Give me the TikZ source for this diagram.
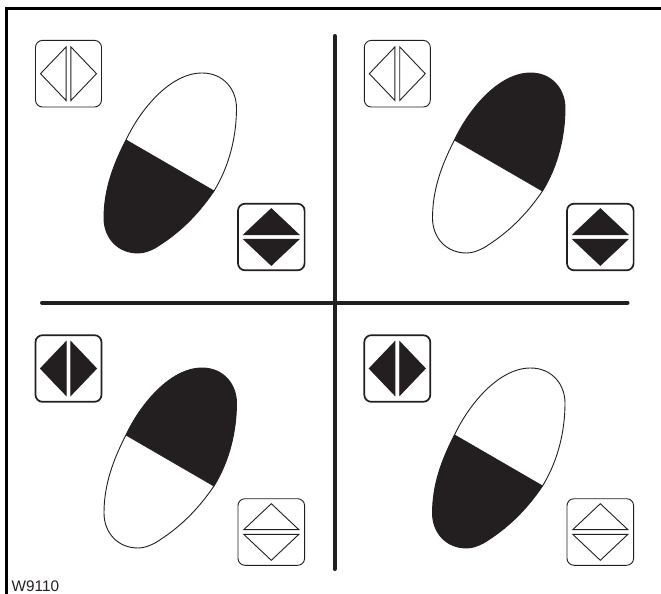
\documentclass[tikz,border=0pt]{standalone}
\usepackage{fontspec}
\setmainfont{Liberation Sans}
\definecolor{ink}{HTML}{231F20}
\tikzset{
  iconbox/.style={draw=ink,rounded corners=7,fill=white},
  thinicon/.style={line width=0.9pt},
  boldicon/.style={line width=1.7pt},
  tri/.style={draw=ink,line width=0.9pt,line join=miter},
  divider/.style={draw=ink,line width=4pt,line cap=round},
  frameline/.style={draw=black,line width=2.7pt},
  blobline/.style={draw=ink,line width=0.9pt},
}
% blob: #1 x shift, #2 y shift, #3 upper fill, #4 lower fill
\newcommand{\blobshape}[4]{%
  \begin{scope}[shift={(#1,#2)}]
    \path[fill=#3] (126,140) .. controls (140,110) and (170,73) .. (202,73)
      .. controls (224,73) and (236.5,90) .. (236.5,108)
      .. controls (236.5,135) and (230,165) .. (214,191) -- cycle;
    \path[fill=#4] (214,191) .. controls (197,216) and (178,234) .. (155,248)
      .. controls (149,251) and (144,253) .. (138,253)
      .. controls (118,253) and (104,238) .. (104,218)
      .. controls (104,190) and (113,165) .. (126,140) -- cycle;
    \draw[blobline,line join=round] (126,140) .. controls (140,110) and (170,73) .. (202,73)
      .. controls (224,73) and (236.5,90) .. (236.5,108)
      .. controls (236.5,135) and (230,165) .. (214,191)
      .. controls (197,216) and (178,234) .. (155,248)
      .. controls (149,251) and (144,253) .. (138,253)
      .. controls (118,253) and (104,238) .. (104,218)
      .. controls (104,190) and (113,165) .. (126,140) -- (214,191);
  \end{scope}}
% horizontal-pair icon: #1 cx, #2 cy, #3 box style, #4 fill
\newcommand{\iconlr}[4]{%
  \begin{scope}[shift={(#1,#2)}]
    \path[iconbox,#3] (-33,-33.3) rectangle (33,33.3);
    \path[tri,fill=#4] (-2.4,-26.8) -- (-28,0) -- (-2.4,26.8) -- cycle;
    \path[tri,fill=#4] (2.4,-26.8) -- (28,0) -- (2.4,26.8) -- cycle;
  \end{scope}}
\newcommand{\iconud}[4]{%
  \begin{scope}[shift={(#1,#2)}]
    \path[iconbox,#3] (-33.3,-33.3) rectangle (33.3,33.3);
    \path[tri,fill=#4] (-27.5,-2.4) -- (0,-28.3) -- (27.5,-2.4) -- cycle;
    \path[tri,fill=#4] (-27.5,2.4) -- (0,28.3) -- (27.5,2.4) -- cycle;
  \end{scope}}
\begin{document}
\begin{tikzpicture}[x=1pt,y=-1pt]
  \useasboundingbox (0,0) rectangle (661,594);
  \fill[white] (0,0) rectangle (661,594);
  \draw[frameline] (6.8,594) -- (6.8,8.8) -- (661,8.8);
  \blobshape{0}{0}{white}{ink}
  \blobshape{328.5}{0}{ink}{white}
  \blobshape{0}{295}{ink}{white}
  \blobshape{328.5}{295}{white}{ink}
  \iconlr{68.5}{73.7}{thinicon}{white}
  \iconlr{397.3}{73.7}{thinicon}{white}
  \iconlr{68.5}{368.5}{boldicon}{ink}
  \iconlr{397.3}{368.5}{boldicon}{ink}
  \iconud{271.3}{237}{boldicon}{ink}
  \iconud{600.3}{237}{boldicon}{ink}
  \iconud{271.3}{532}{thinicon}{white}
  \iconud{600.3}{532}{thinicon}{white}
  \coordinate (vtop) at (334.7,36);
  \coordinate (vbot) at (334.7,569);
  \coordinate (hleft) at (42,302.7);
  \coordinate (hright) at (627.5,302.7);
  \draw[divider] (vtop) -- (vbot);
  \draw[divider] (hleft) -- (hright);
  \node[anchor=base west,inner sep=0pt,font=\fontsize{15.3}{15.3}\selectfont,text=ink] (code) at (11.5,591.5) {W9110};
\end{tikzpicture}
\end{document}
